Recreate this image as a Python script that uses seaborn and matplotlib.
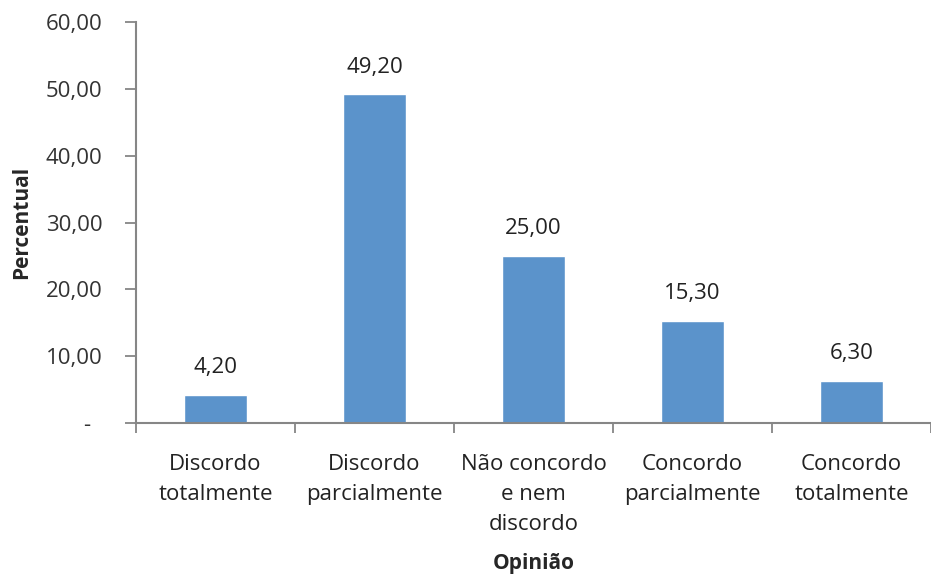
import matplotlib
matplotlib.use("Agg")
import matplotlib.pyplot as plt
from matplotlib.ticker import FixedLocator
import seaborn as sns
import pandas as pd

categorias = [
    "Discordo\ntotalmente",
    "Discordo\nparcialmente",
    "Não concordo\ne nem\ndiscordo",
    "Concordo\nparcialmente",
    "Concordo\ntotalmente",
]
percentuais = [4.20, 49.20, 25.00, 15.30, 6.30]
y_ticks = [0, 10, 20, 30, 40, 50, 60]
y_tick_labels = ["-  ", "10,00", "20,00", "30,00", "40,00", "50,00", "60,00"]

sns.set_style("white")
plt.rcParams["font.family"] = ["Open Sans", "DejaVu Sans"]

df = pd.DataFrame({"Opinião": categorias, "Percentual": percentuais})

fig = plt.figure(figsize=(9.31, 5.78), dpi=100)
ax = fig.add_axes([0.146, 0.268, 0.854, 0.694])

sns.barplot(data=df, x="Opinião", y="Percentual", color="#5B93CB",
            saturation=1, width=0.4, ax=ax)

ax.set_xlim(-0.5, len(categorias) - 0.5)
ax.set_ylim(0, 60)

# value labels with comma decimal separator
for i, v in enumerate(percentuais):
    ax.annotate(f"{v:.2f}".replace(".", ","), (i, v), xytext=(0, 12),
                textcoords="offset points", ha="center", va="bottom",
                fontsize=16, color="#222222")

ax.set_yticks(y_ticks)
ax.set_yticklabels(y_tick_labels)
ax.tick_params(axis="y", length=8, width=1.3, color="#868686",
               labelsize=16, labelcolor="#333333", pad=16, left=True)

# category labels centred under bars, tick marks on the boundaries
ax.tick_params(axis="x", which="major", length=0, labelsize=16,
               labelcolor="#222222", pad=22)
for lbl in ax.get_xticklabels():
    lbl.set_linespacing(1.58)
ax.xaxis.set_minor_locator(FixedLocator([k - 0.5 for k in range(len(categorias) + 1)]))
ax.tick_params(axis="x", which="minor", length=7, width=1.3, color="#868686",
               bottom=True)

for side in ("top", "right"):
    ax.spines[side].set_visible(False)
for side in ("left", "bottom"):
    ax.spines[side].set_color("#868686")
    ax.spines[side].set_linewidth(1.5)

ax.set_xlabel("Opinião", fontsize=15, fontweight="bold", labelpad=13)
ax.set_ylabel("Percentual", fontsize=15, fontweight="bold", labelpad=10)

fig.savefig("out.png", dpi=100)
